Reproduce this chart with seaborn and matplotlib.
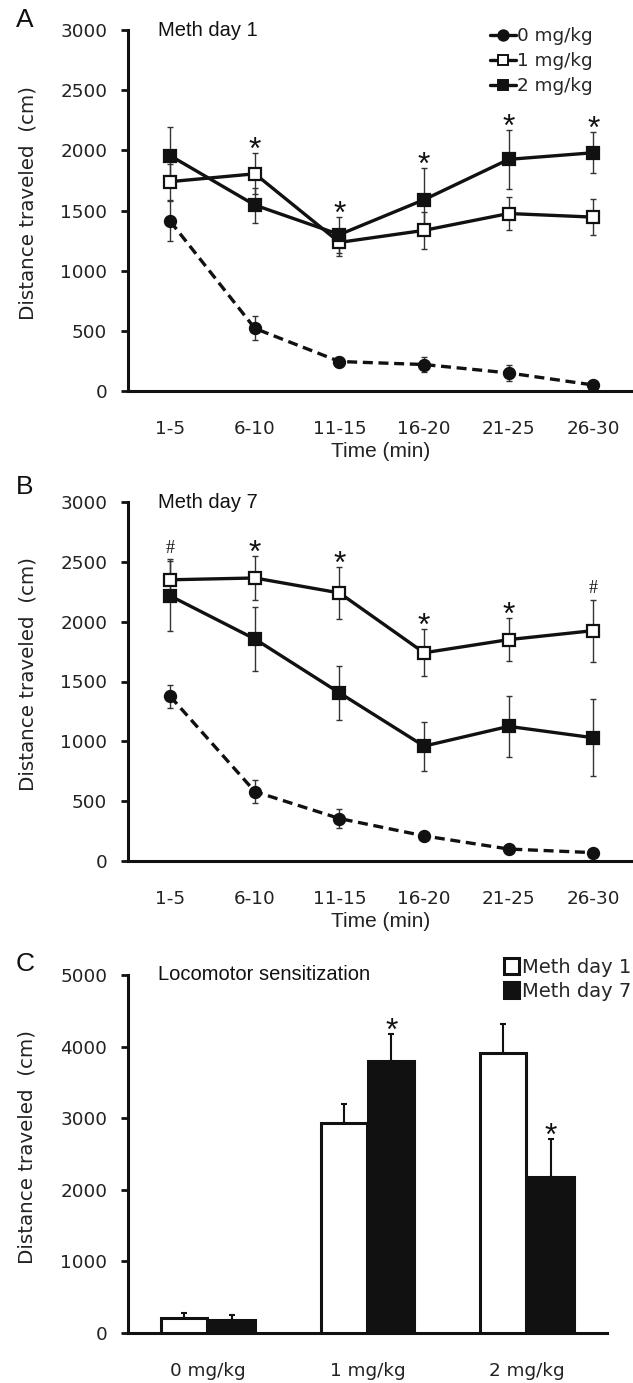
import numpy as np
import pandas as pd
import matplotlib
matplotlib.use("Agg")
import matplotlib.pyplot as plt
import seaborn as sns
from matplotlib.lines import Line2D
from matplotlib.patches import Patch

# ---------------- data ----------------
times = ["1-5", "6-10", "11-15", "16-20", "21-25", "26-30"]
doses = ["0 mg/kg", "1 mg/kg", "2 mg/kg"]

# Panel A: Meth day 1
day1_0mg = [1410, 520, 245, 220, 150, 50]
day1_0mg_err = [165, 100, 40, 60, 65, 20]
day1_1mg = [1740, 1805, 1235, 1335, 1475, 1445]
day1_1mg_err = [150, 170, 110, 155, 140, 150]
day1_2mg = [1955, 1545, 1300, 1590, 1925, 1980]
day1_2mg_err = [235, 145, 150, 265, 245, 170]
day1_marks = ["", "*", "*", "*", "*", "*"]

# Panel B: Meth day 7
day7_0mg = [1375, 580, 355, 210, 100, 70]
day7_0mg_err = [95, 95, 80, 30, 20, 15]
day7_1mg = [2350, 2365, 2240, 1740, 1850, 1925]
day7_1mg_err = [170, 180, 220, 195, 180, 260]
day7_2mg = [2215, 1855, 1405, 960, 1125, 1030]
day7_2mg_err = [290, 270, 225, 205, 255, 320]
day7_marks = ["#", "*", "*", "*", "*", "#"]

# Panel C: Locomotor sensitization
sens_days = ["Meth day 1", "Meth day 7"]
sens_day1 = [210, 2935, 3910]
sens_day1_err = [70, 270, 400]
sens_day7 = [185, 3795, 2180]
sens_day7_err = [60, 380, 525]
sens_marks = ["", "*", "*"]

# ---------------- style ----------------
sns.set_theme(style="ticks")
plt.rcParams["font.family"] = ["DejaVu Sans"]
plt.rcParams["axes.linewidth"] = 2.2
K = "#111111"
T = "#222222"
ARIAL = ["Liberation Sans", "DejaVu Sans"]

W, H = 633, 1383
fig = plt.figure(figsize=(W / 100, H / 100), dpi=100)
fig.patch.set_facecolor("white")


def px_axes(left, top, right, bottom):
    return fig.add_axes([left / W, 1 - bottom / H, (right - left) / W, (bottom - top) / H])


def style_axes(ax, ymax, ystep, ylabel="Distance traveled  (cm)"):
    for s in ["top", "right"]:
        ax.spines[s].set_visible(False)
    for s in ["left", "bottom"]:
        ax.spines[s].set_color(K)
        ax.spines[s].set_linewidth(2.2)
    ax.set_ylim(0, ymax)
    ax.set_yticks(np.arange(0, ymax + 1, ystep))
    ax.tick_params(axis="y", direction="out", length=5, width=2, color=K,
                   labelsize=13.2, pad=10, labelcolor=T)
    ax.tick_params(axis="x", length=0, labelsize=13.2, pad=21, labelcolor=T)
    ax.set_facecolor("white")
    ax.set_ylabel(ylabel, fontsize=14.3, color=T)
    ax.grid(False)


def line_panel(ax, series, marks, title, show_legend):
    for label, vals, errs, marker, mfc, ls in series:
        ax.errorbar(times, vals, yerr=errs, fmt="none", ecolor="#333333",
                    elinewidth=1.0, capsize=2.5, capthick=1.0, zorder=2)
    for label, vals, errs, marker, mfc, ls in series:
        kw = dict(marker=marker, markersize=8.5 if marker == "s" else 8,
                  markerfacecolor=mfc, markeredgecolor=K, markeredgewidth=1.6,
                  color=K, linewidth=2.4, sort=False, ax=ax, label=label, zorder=3)
        if ls == "--":
            kw["dashes"] = (3.0, 1.7)
        sns.lineplot(x=times, y=vals, **kw)
    tops = np.max([np.array(v) + np.array(e) for _, v, e, *_ in series], axis=0)
    for i, m in enumerate(marks):
        if not m:
            continue
        if m == "*":
            ax.annotate(m, xy=(i, tops[i]), xytext=(0, 1.5), textcoords="offset points",
                        ha="center", va="center", fontsize=23, color=K, family=ARIAL)
        else:
            ax.annotate(m, xy=(i, tops[i]), xytext=(0, 8), textcoords="offset points",
                        ha="center", va="center", fontsize=13, color=K,
                        family=["Liberation Serif", "DejaVu Serif"])
    ax.set_xlim(-0.5, 5.47)
    style_axes(ax, 3000, 500)
    ax.set_xlabel("Time (min)", fontsize=15, labelpad=3, color=T, family=ARIAL)
    ax.yaxis.set_label_coords(-0.18, 0.52)
    ax.text(0.06, 1.0, title, transform=ax.transAxes, fontsize=14.5,
            ha="left", va="center", color=K, family=ARIAL)
    if show_legend:
        handles = [Line2D([], [], color=K, lw=2.4, marker=mk, markersize=7.5,
                          markerfacecolor=mfc, markeredgecolor=K, markeredgewidth=1.4)
                   for _, _, _, mk, mfc, _ in series]
        labels = [s[0] for s in series]
        ax.legend(handles, labels, loc="upper left", bbox_to_anchor=(490 / W, 1 - 27 / H),
                  bbox_transform=fig.transFigure, frameon=False, fontsize=13.2,
                  handlelength=1.4, handletextpad=0.05, labelspacing=0.38,
                  borderpad=0, borderaxespad=0)
    else:
        leg = ax.get_legend()
        if leg:
            leg.remove()


# ---------------- Panel A ----------------
axA = px_axes(128, 30, 633, 391)
line_panel(axA, [
    ("0 mg/kg", day1_0mg, day1_0mg_err, "o", K, "--"),
    ("1 mg/kg", day1_1mg, day1_1mg_err, "s", "white", "-"),
    ("2 mg/kg", day1_2mg, day1_2mg_err, "s", K, "-"),
], day1_marks, "Meth day 1", True)

# ---------------- Panel B ----------------
axB = px_axes(128, 502, 633, 861)
line_panel(axB, [
    ("0 mg/kg", day7_0mg, day7_0mg_err, "o", K, "--"),
    ("1 mg/kg", day7_1mg, day7_1mg_err, "s", "white", "-"),
    ("2 mg/kg", day7_2mg, day7_2mg_err, "s", K, "-"),
], day7_marks, "Meth day 7", False)

# ---------------- Panel C ----------------
axC = px_axes(128, 975, 607, 1333)
dfC = pd.DataFrame({
    "dose": doses * 2,
    "day": [sens_days[0]] * 3 + [sens_days[1]] * 3,
    "value": sens_day1 + sens_day7,
})
sns.barplot(data=dfC, x="dose", y="value", hue="day", order=doses, hue_order=sens_days,
            palette={sens_days[0]: "white", sens_days[1]: K}, edgecolor=K, linewidth=2.2,
            width=0.6, gap=0.04, errorbar=None, ax=axC, legend=False, zorder=3)
for cont, errs, marks in zip(axC.containers, [sens_day1_err, sens_day7_err],
                             [[""] * 3, sens_marks]):
    for bar, e, m in zip(cont, errs, marks):
        xc = bar.get_x() + bar.get_width() / 2
        h = bar.get_height()
        axC.errorbar([xc], [h], yerr=[[0], [e]], fmt="none", ecolor=K,
                     elinewidth=1.5, capsize=2.5, capthick=1.5, zorder=2)
        if m:
            axC.annotate(m, xy=(xc, h + e), xytext=(0, 1.5), textcoords="offset points",
                         ha="center", va="center", fontsize=23, color=K, family=ARIAL)
axC.set_xlim(-0.5, 2.5)
style_axes(axC, 5000, 1000)
axC.set_xlabel("")
axC.yaxis.set_label_coords(-0.19, 0.52)
axC.text(30 / 479, 1.0, "Locomotor sensitization", transform=axC.transAxes,
         fontsize=14.5, ha="left", va="center", color=K, family=ARIAL)
legC = [Patch(facecolor="white", edgecolor=K, linewidth=2.2),
        Patch(facecolor=K, edgecolor=K, linewidth=2.2)]
axC.legend(legC, sens_days, loc="upper left", bbox_to_anchor=(504 / W, 1 - 958 / H),
           bbox_transform=fig.transFigure, frameon=False, fontsize=14,
           handlelength=0.75, handleheight=0.9, handletextpad=0.2, labelspacing=0.25,
           borderpad=0, borderaxespad=0)

# panel letters
for letter, y in [("A", 20), ("B", 487), ("C", 964)]:
    fig.text(25 / W, 1 - y / H, letter, fontsize=19, ha="center", va="center",
             color=K, family=ARIAL)

fig.savefig("out.png", dpi=100, facecolor="white")
